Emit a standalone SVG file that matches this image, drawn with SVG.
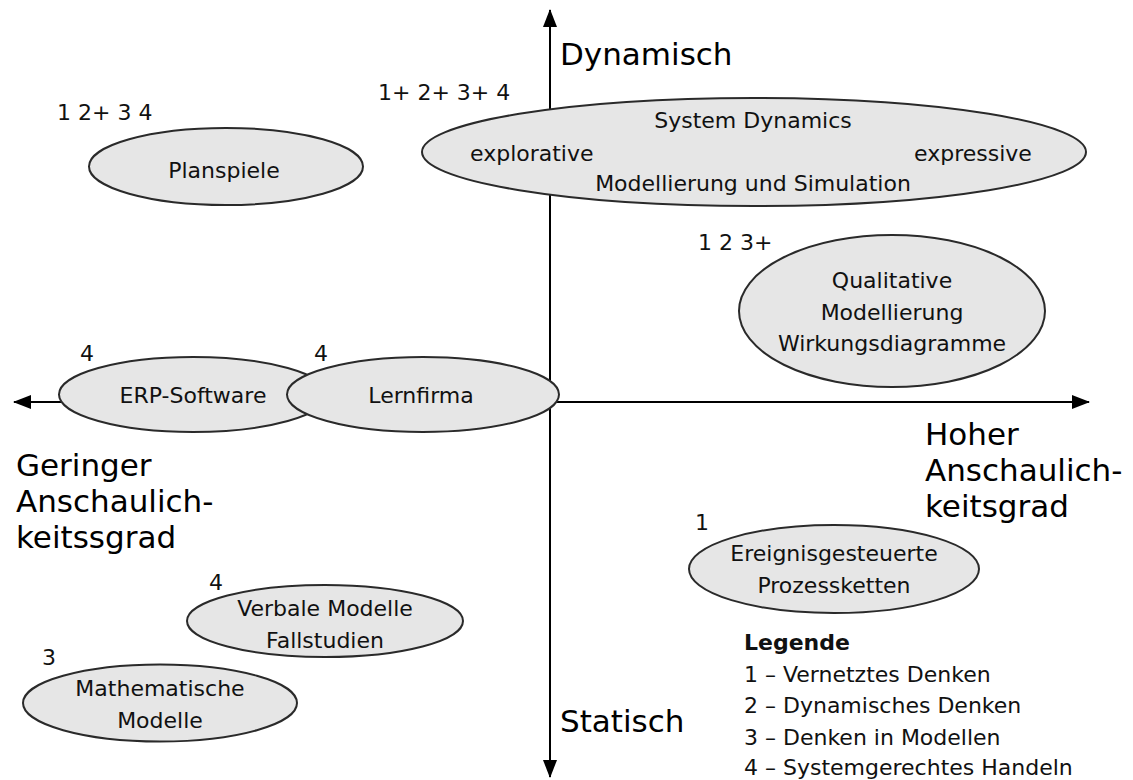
<svg xmlns="http://www.w3.org/2000/svg" width="1133" height="780" viewBox="0 0 1133 780">
<style>
.bg{fill:#ffffff}
.ax{stroke:#000;stroke-width:2;fill:none}
.el{fill:#e6e6e6;stroke:#2a2a2a;stroke-width:2}
.t{font-family:"DejaVu Sans",Verdana,sans-serif;font-size:22px;fill:#111}
.c{text-anchor:middle}
.big{font-family:"DejaVu Sans",Verdana,sans-serif;font-size:31px;fill:#000}
.b{font-weight:bold}
</style>
<defs>
<marker id="ah" viewBox="0 0 18 14" refX="17" refY="7" markerWidth="18" markerHeight="14" markerUnits="userSpaceOnUse" orient="auto-start-reverse">
<path d="M0,0 L18,7 L0,14 Z" fill="#000"/>
</marker>
</defs>
<rect class="bg" x="0" y="0" width="1133" height="780"/>
<g id="connectors">
<line class="ax" x1="14" y1="402" x2="1089" y2="402" marker-start="url(#ah)" marker-end="url(#ah)"/>
<line class="ax" x1="550" y1="10" x2="550" y2="777" marker-start="url(#ah)" marker-end="url(#ah)"/>
</g>
<g id="axis-labels">
<text class="big" x="560" y="65">Dynamisch</text>
<text class="big" x="560" y="732">Statisch</text>
<text class="big" x="16" y="476">Geringer</text>
<text class="big" x="16" y="512">Anschaulich-</text>
<text class="big" x="16" y="548">keitssgrad</text>
<text class="big" x="925" y="445">Hoher</text>
<text class="big" x="925" y="481">Anschaulich-</text>
<text class="big" x="925" y="517">keitsgrad</text>
</g>
<g id="planspiele">
<ellipse class="el" cx="226" cy="166.5" rx="137" ry="38.5"/>
<text class="t c" x="224" y="178">Planspiele</text>
<text class="t" x="57" y="120">1 2+ 3 4</text>
</g>
<g id="system-dynamics">
<ellipse class="el" cx="754" cy="152" rx="332" ry="54"/>
<text class="t c" x="753" y="128">System Dynamics</text>
<text class="t" x="470" y="161">explorative</text>
<text class="t" x="914" y="161">expressive</text>
<text class="t c" x="753" y="191">Modellierung und Simulation</text>
<text class="t" x="378" y="100">1+ 2+ 3+ 4</text>
</g>
<g id="qualitative">
<ellipse class="el" cx="892" cy="311" rx="153" ry="76"/>
<text class="t c" x="892" y="288">Qualitative</text>
<text class="t c" x="892" y="320">Modellierung</text>
<text class="t c" x="892" y="351">Wirkungsdiagramme</text>
<text class="t" x="698" y="250">1 2 3+</text>
</g>
<g id="erp-software">
<ellipse class="el" cx="193" cy="394.5" rx="134" ry="37.5"/>
<text class="t c" x="193" y="403">ERP-Software</text>
<text class="t" x="80" y="361">4</text>
</g>
<g id="lernfirma">
<ellipse class="el" cx="423" cy="394.5" rx="136" ry="37.5"/>
<text class="t c" x="421" y="403">Lernfirma</text>
<text class="t" x="314" y="361">4</text>
</g>
<g id="ereignis">
<ellipse class="el" cx="834" cy="569" rx="145" ry="44"/>
<text class="t c" x="834" y="561">Ereignisgesteuerte</text>
<text class="t c" x="834" y="593">Prozessketten</text>
<text class="t" x="695" y="530">1</text>
</g>
<g id="verbale">
<ellipse class="el" cx="325" cy="621" rx="138" ry="36"/>
<text class="t c" x="325" y="616">Verbale Modelle</text>
<text class="t c" x="325" y="648">Fallstudien</text>
<text class="t" x="209" y="590">4</text>
</g>
<g id="mathematische">
<ellipse class="el" cx="160" cy="703" rx="137" ry="38.5"/>
<text class="t c" x="160" y="696">Mathematische</text>
<text class="t c" x="160" y="728">Modelle</text>
<text class="t" x="42" y="665">3</text>
</g>
<g id="legende">
<text class="t b" x="744" y="650">Legende</text>
<text class="t" x="744" y="682">1 – Vernetztes Denken</text>
<text class="t" x="744" y="713">2 – Dynamisches Denken</text>
<text class="t" x="744" y="745">3 – Denken in Modellen</text>
<text class="t" x="744" y="775">4 – Systemgerechtes Handeln</text>
</g>
</svg>
